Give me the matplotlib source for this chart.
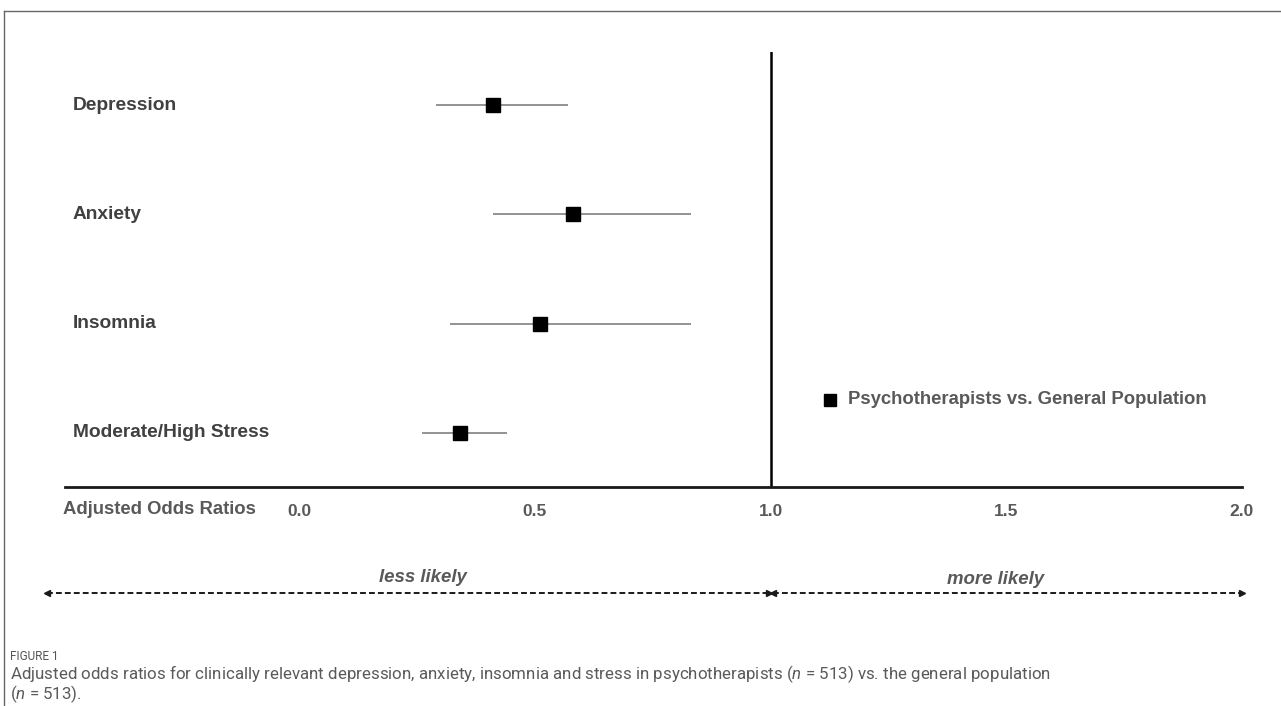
import matplotlib
matplotlib.use("Agg")
import matplotlib.pyplot as plt
import matplotlib.transforms as mtransforms
from matplotlib.lines import Line2D

# Data: adjusted odds ratios with 95% CI
outcomes = ["Depression", "Anxiety", "Insomnia", "Moderate/High Stress"]
odds_ratio = [0.41, 0.58, 0.51, 0.34]
ci_low = [0.29, 0.41, 0.32, 0.26]
ci_high = [0.57, 0.83, 0.83, 0.44]
tick_values = [0.0, 0.5, 1.0, 1.5, 2.0]
tick_labels = ["0.0", "0.5", "1.0", "1.5", "2.0"]

plt.rcParams["font.family"] = ["Liberation Sans", "DejaVu Sans"]
plt.rcParams["mathtext.fontset"] = "custom"
plt.rcParams["mathtext.it"] = "Roboto:italic"
plt.rcParams["mathtext.rm"] = "Roboto"

W, H = 1281, 706
fig = plt.figure(figsize=(W / 100, H / 100), dpi=100)

# axes: x pixel 65..1242, y pixel 52..487
ax = fig.add_axes([65 / W, 1 - 487 / H, (1242 - 65) / W, (487 - 52) / H])
ax.set_xlim(-0.497, 2.0)
ax.set_ylim(0.506, 4.485)

y = [4 - i for i in range(len(outcomes))]
xerr = [[o - l for o, l in zip(odds_ratio, ci_low)],
        [h - o for o, h in zip(odds_ratio, ci_high)]]
ax.errorbar(odds_ratio, y, xerr=xerr, fmt="s", color="black", markersize=10,
            ecolor="#808080", elinewidth=1.2, capsize=0, zorder=3)

ax.axvline(1.0, color="black", lw=1.8, zorder=2)

for s in ["top", "right", "left"]:
    ax.spines[s].set_visible(False)
ax.spines["bottom"].set_linewidth(2)
ax.spines["bottom"].set_color("#1a1a1a")
ax.set_yticks([])
ax.set_xticks(tick_values)
ax.set_xticklabels(tick_labels, fontweight="bold", color="#595959", fontsize=12.5)
ax.tick_params(axis="x", length=0, pad=12)

# category labels inside the plot
lab_tr = mtransforms.blended_transform_factory(ax.transAxes, ax.transData)
for name, yy in zip(outcomes, y):
    ax.text(0.0068, yy, name, transform=lab_tr, ha="left", va="center",
            fontsize=13.8, fontweight="bold", color="#404040")

fig.text(63 / W, 1 - 509 / H, "Adjusted Odds Ratios", ha="left", va="center",
         fontsize=13.3, fontweight="bold", color="#595959")

# legend
h = Line2D([], [], marker="s", color="black", ls="none", markersize=8)
leg = ax.legend([h], ["Psychotherapists vs. General Population"],
                loc="center left", bbox_to_anchor=(816 / W, 1 - 400 / H),
                bbox_transform=fig.transFigure, frameon=False,
                handletextpad=0.8, handlelength=1.0, borderpad=0)
for t in leg.get_texts():
    t.set_fontweight("bold")
    t.set_color("#595959")
    t.set_fontsize(13.3)

# direction arrows below the axis
arr_tr = mtransforms.blended_transform_factory(ax.transData, fig.transFigure)
ya = 1 - 593 / H
left_end = -0.535
for x0, x1 in [(left_end, 0.996), (1.006, 2.0)]:
    ax.plot([x0, x1], [ya, ya], transform=arr_tr, color="#1a1a1a", lw=1.4,
            ls=(0, (3, 1.6)), clip_on=False)
    ax.plot([x0], [ya], transform=arr_tr, marker="<", color="#1a1a1a",
            markersize=5, clip_on=False)
    ax.plot([x1], [ya], transform=arr_tr, marker=">", color="#1a1a1a",
            markersize=5, clip_on=False)
ax.text(0.263, 1 - 577 / H, "less likely", transform=arr_tr,
        ha="center", va="center", fontsize=13.4, style="italic",
        fontweight="bold", color="#595959")
ax.text(1.477, 1 - 579 / H, "more likely", transform=arr_tr,
        ha="center", va="center", fontsize=13.4, style="italic",
        fontweight="bold", color="#595959")

# page frame
fig.add_artist(Line2D([4 / W, 1], [1 - 11 / H, 1 - 11 / H], color="#666666", lw=1))
fig.add_artist(Line2D([4 / W, 4 / W], [0, 1 - 11 / H], color="#666666", lw=1))

# caption
fig.text(10 / W, 1 - 656 / H, "FIGURE 1", fontsize=8.5, color="#555555",
         family="Roboto", ha="left", va="center")
fig.text(10 / W, 1 - 685 / H,
         "Adjusted odds ratios for clinically relevant depression, anxiety, insomnia and "
         "stress in psychotherapists ($n$ = 513) vs. the general population",
         fontsize=12.2, color="#5a5a5a", family="Roboto", ha="left", va="bottom")
fig.text(10 / W, 1 - 705 / H, "($n$ = 513).", fontsize=12.2, color="#5a5a5a",
         family="Roboto", ha="left", va="bottom")

fig.savefig("out.png", dpi=100)
